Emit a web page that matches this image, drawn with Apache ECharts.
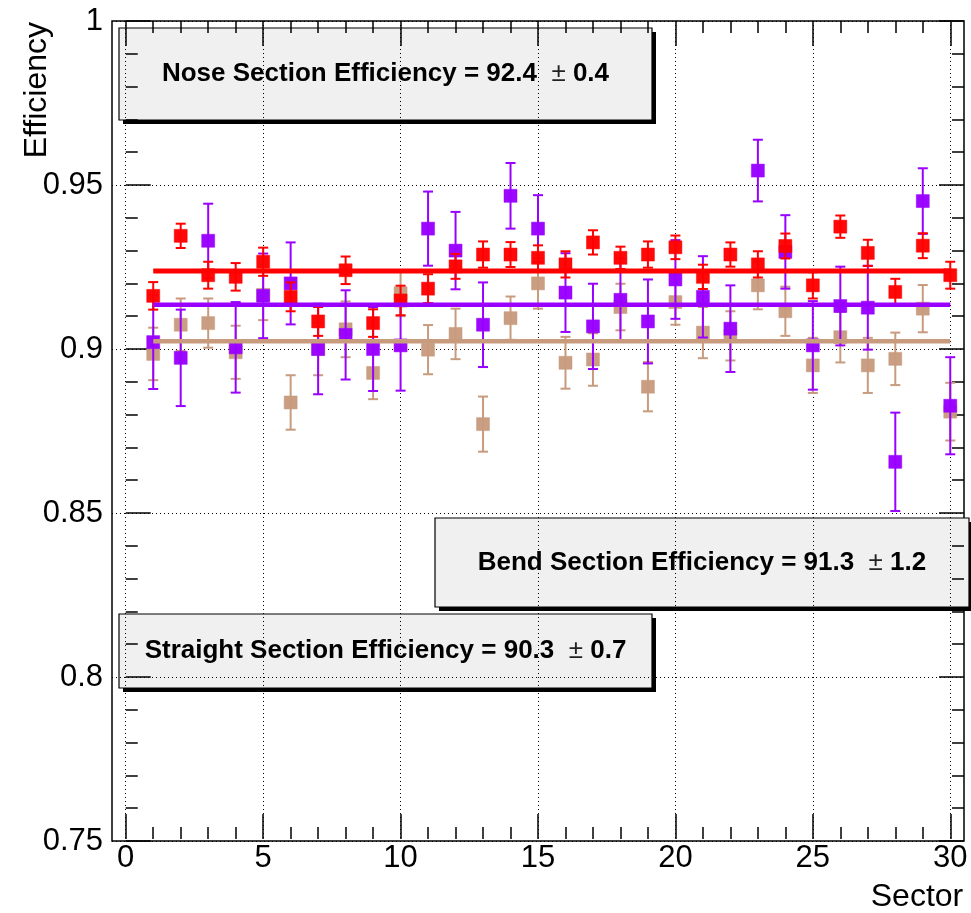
<!DOCTYPE html>
<html>
<head>
<meta charset="utf-8">
<script src="https://cdn.jsdelivr.net/npm/echarts@6/dist/echarts.min.js"></script>
<style>html,body{margin:0;padding:0;background:#fff}#c{width:971px;height:913px}</style>
</head>
<body>
<div id="c"></div>
<script>
// ---- data ----
const sectors = [1,2,3,4,5,6,7,8,9,10,11,12,13,14,15,16,17,18,19,20,21,22,23,24,25,26,27,28,29,30];

const noseEff = [0.9162,0.9345,0.9225,0.9220,0.9266,0.9159,0.9084,0.9240,0.9079,0.9148,
                 0.9184,0.9252,0.9288,0.9288,0.9278,0.9258,0.9325,0.9278,0.9288,0.9310,
                 0.9220,0.9288,0.9258,0.9314,0.9194,0.9373,0.9293,0.9174,0.9315,0.9225];
const noseErr = [0.0042,0.0037,0.0041,0.0042,0.0043,0.0044,0.0044,0.0042,0.0042,0.0045,
                 0.0044,0.0038,0.0040,0.0038,0.0038,0.0040,0.0037,0.0034,0.0040,0.0036,
                 0.0037,0.0037,0.0040,0.0038,0.0040,0.0034,0.0040,0.0040,0.0038,0.0041];

const bendEff = [0.9021,0.8973,0.9330,0.9005,0.9162,0.9200,0.9000,0.9043,0.9000,0.9011,
                 0.9367,0.9300,0.9074,0.9467,0.9367,0.9172,0.9069,0.9150,0.9084,0.9212,
                 0.9159,0.9062,0.9544,0.9296,0.9011,0.9131,0.9126,0.8656,0.9451,0.8827];
const bendErr = [0.0143,0.0147,0.0113,0.0138,0.0129,0.0125,0.0138,0.0136,0.0128,0.0138,
                 0.0113,0.0118,0.0129,0.0100,0.0102,0.0120,0.0130,0.0127,0.0128,0.0120,
                 0.0124,0.0132,0.0094,0.0112,0.0135,0.0120,0.0128,0.0150,0.0100,0.0148];

const straightEff = [0.8985,0.9074,0.9079,0.8990,0.9165,0.8837,0.9000,0.9060,0.8927,0.9170,
                     0.8998,0.9046,0.8771,0.9094,0.9200,0.8958,0.8968,0.9128,0.8885,0.9143,
                     0.9050,0.9040,0.9194,0.9115,0.8950,0.9036,0.8950,0.8970,0.9123,0.8809];
const straightErr = [0.0080,0.0080,0.0075,0.0081,0.0077,0.0083,0.0080,0.0085,0.0080,0.0070,
                     0.0075,0.0077,0.0084,0.0066,0.0077,0.0079,0.0080,0.0071,0.0075,0.0069,
                     0.0078,0.0075,0.0073,0.0075,0.0084,0.0077,0.0084,0.0080,0.0072,0.0088];

// fitted constants (nose, bend, straight) and fit range
const fitNose = 0.9238, fitBend = 0.9135, fitStraight = 0.9024;
const fitRange = [1, 30];

const boxTexts = {
  nose: ['Nose Section Efficiency = 92.4', '0.4'],
  bend: ['Bend Section Efficiency = 91.3', '1.2'],
  straight: ['Straight Section Efficiency = 90.3', '0.7']
};

// ---- styles ----
const RED = '#ff0000', VIOLET = '#9900ff', TAN = '#c89b7e';
const FONT = '"Liberation Sans", Arial, Helvetica, sans-serif';

function errSeries(name, vals, errs, color) {
  const data = sectors.map((s, i) => [s, vals[i], errs[i]]);
  return {
    type: 'custom', name: name, xAxisIndex: 0, yAxisIndex: 0,
    data: data, encode: {x: 0, y: 1}, clip: false, silent: true,
    renderItem: function (params, api) {
      const x = api.value(0), y = api.value(1), e = api.value(2);
      const lo = api.coord([x, y - e]), hi = api.coord([x, y + e]), c = api.coord([x, y]);
      const cw = 5, s = 6.5;
      const ls = {stroke: color, lineWidth: 2};
      return {
        type: 'group',
        children: [
          {type: 'line', shape: {x1: lo[0], y1: lo[1], x2: hi[0], y2: hi[1]}, style: ls},
          {type: 'line', shape: {x1: lo[0] - cw, y1: lo[1], x2: lo[0] + cw, y2: lo[1]}, style: ls},
          {type: 'line', shape: {x1: hi[0] - cw, y1: hi[1], x2: hi[0] + cw, y2: hi[1]}, style: ls},
          {type: 'rect', shape: {x: c[0] - s, y: c[1] - s, width: 2 * s, height: 2 * s},
           style: {fill: color, stroke: color, lineWidth: 0.5, opacity: 0.97}}
        ]
      };
    }
  };
}

function fitSeries(name, v, color, w) {
  return {
    type: 'line', name: name, xAxisIndex: 0, yAxisIndex: 0,
    data: [[fitRange[0], v], [fitRange[1], v]],
    symbol: 'none', silent: true,
    lineStyle: {color: color, width: w, cap: 'butt'}
  };
}

function box(x, y, w, h, parts) {
  return {
    type: 'group', z: 100,
    children: [
      {type: 'rect', shape: {x: x + 4, y: y + 4, width: w, height: h}, style: {fill: '#000'}},
      {type: 'rect', shape: {x: x, y: y, width: w, height: h}, style: {fill: '#f0f0f0', stroke: '#000', lineWidth: 1.2}},
      {type: 'text', x: x + w / 2, y: y + h / 2,
       style: {
         text: '{b|' + parts[0] + '}  {n|\u00b1} {b|' + parts[1] + '}',
         fill: '#000', font: 'bold 26px ' + FONT, align: 'center', verticalAlign: 'middle',
         rich: {
           b: {fontFamily: FONT, fontWeight: 'bold', fontSize: 26, fill: '#000'},
           n: {fontFamily: FONT, fontWeight: 'normal', fontSize: 26, fill: '#222'}
         }
       }}
    ]
  };
}

const tickLine = {color: '#000', width: 1.5};
const dotted = {color: '#000', width: 1, type: [1, 3]};

const option = {
  animation: false,
  backgroundColor: '#fff',
  grid: [
    {left: 112, right: 7, top: 21, bottom: 72, show: true, borderColor: '#000', borderWidth: 1.5, backgroundColor: 'transparent'},
    {left: 112 + 852 / 62, right: 7 + 852 / 62, top: 21, bottom: 72}
  ],
  xAxis: [
    {gridIndex: 0, type: 'value', min: -0.5, max: 30.5, show: true,
     axisLine: {show: false}, axisTick: {show: false}, axisLabel: {show: false}, splitLine: {show: false}},
    {gridIndex: 1, type: 'value', min: 0, max: 30, interval: 5, position: 'bottom',
     axisLine: {show: false},
     axisTick: {show: true, inside: true, length: 25, lineStyle: tickLine},
     minorTick: {show: true, splitNumber: 5, length: 12, lineStyle: tickLine},
     axisLabel: {show: true, fontSize: 31, fontFamily: FONT, color: '#000', margin: 4},
     splitLine: {show: true, lineStyle: dotted},
     name: 'Sector', nameLocation: 'end', nameGap: 13,
     nameTextStyle: {fontSize: 32, fontFamily: FONT, color: '#000', align: 'right', verticalAlign: 'top', padding: [42, 0, 0, 0]}},
    {gridIndex: 1, type: 'value', min: 0, max: 30, interval: 5, position: 'top',
     axisLine: {show: false},
     axisTick: {show: true, inside: true, length: 25, lineStyle: tickLine},
     minorTick: {show: true, splitNumber: 5, length: 12, lineStyle: tickLine},
     axisLabel: {show: false}, splitLine: {show: false}}
  ],
  yAxis: [
    {gridIndex: 0, type: 'value', min: 0.75, max: 1, interval: 0.05, position: 'left',
     axisLine: {show: false},
     axisTick: {show: true, inside: true, length: 25, lineStyle: tickLine},
     minorTick: {show: true, splitNumber: 5, length: 12, lineStyle: tickLine},
     axisLabel: {show: true, fontSize: 31, fontFamily: FONT, color: '#000', margin: 9},
     splitLine: {show: true, lineStyle: dotted}},
    {gridIndex: 0, type: 'value', min: 0.75, max: 1, interval: 0.05, position: 'right',
     axisLine: {show: false},
     axisTick: {show: true, inside: true, length: 25, lineStyle: tickLine},
     minorTick: {show: true, splitNumber: 5, length: 12, lineStyle: tickLine},
     axisLabel: {show: false}, splitLine: {show: false}},
    {gridIndex: 1, type: 'value', min: 0.75, max: 1, show: false}
  ],
  graphic: [
    {type: 'text', x: 37, y: 22, rotation: Math.PI / 2,
     style: {text: 'Efficiency', fill: '#000', font: '32px ' + FONT, align: 'right', verticalAlign: 'middle'}},
    box(119, 28, 533, 92, boxTexts.nose),
    box(435, 518, 534, 89, boxTexts.bend),
    box(119, 614, 533, 74, boxTexts.straight)
  ],
  series: [
    errSeries('Straight', straightEff, straightErr, TAN),
    fitSeries('Straight fit', fitStraight, TAN, 4.5),
    errSeries('Bend', bendEff, bendErr, VIOLET),
    fitSeries('Bend fit', fitBend, VIOLET, 4.5),
    errSeries('Nose', noseEff, noseErr, RED),
    fitSeries('Nose fit', fitNose, RED, 5)
  ]
};

const chart = echarts.init(document.getElementById('c'), null, {renderer: 'canvas'});
chart.setOption(option);
</script>
</body>
</html>
